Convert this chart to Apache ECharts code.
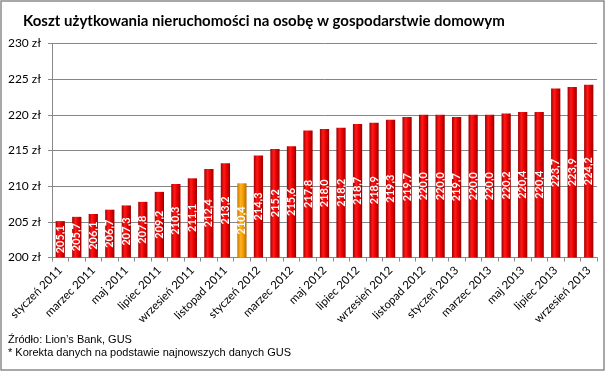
<!DOCTYPE html>
<html>
<head>
<meta charset="utf-8">
<script src="https://cdn.jsdelivr.net/npm/echarts@6/dist/echarts.min.js"></script>
<style>
html,body{margin:0;padding:0;background:#fff;}
#c{width:606px;height:372px;}
</style>
</head>
<body>
<div id="c"></div>
<script>
const categories = [
  'styczeń 2011','luty 2011','marzec 2011','kwiecień 2011','maj 2011','czerwiec 2011',
  'lipiec 2011','sierpień 2011','wrzesień 2011','październik 2011','listopad 2011','grudzień 2011',
  'styczeń 2012','luty 2012','marzec 2012','kwiecień 2012','maj 2012','czerwiec 2012',
  'lipiec 2012','sierpień 2012','wrzesień 2012','październik 2012','listopad 2012','grudzień 2012',
  'styczeń 2013','luty 2013','marzec 2013','kwiecień 2013','maj 2013','czerwiec 2013',
  'lipiec 2013','sierpień 2013','wrzesień 2013'
];
const values = [
  205.1, 205.7, 206.1, 206.7, 207.3, 207.8,
  209.2, 210.3, 211.1, 212.4, 213.2, 210.4,
  214.3, 215.2, 215.6, 217.8, 218.0, 218.2,
  218.7, 218.9, 219.3, 219.7, 220.0, 220.0,
  219.7, 220.0, 220.0, 220.2, 220.4, 220.4,
  223.7, 223.9, 224.2
];
const correctedIndex = 11; // grudzień 2011 (korekta)
const yTicks = [200, 205, 210, 215, 220, 225, 230];

const redGrad = new echarts.graphic.LinearGradient(0, 0, 1, 0, [
  {offset: 0, color: '#a00000'},
  {offset: 0.35, color: '#ff1a1a'},
  {offset: 0.6, color: '#f00000'},
  {offset: 1, color: '#960000'}
]);
const orangeGrad = new echarts.graphic.LinearGradient(0, 0, 1, 0, [
  {offset: 0, color: '#c87800'},
  {offset: 0.35, color: '#ffb020'},
  {offset: 0.6, color: '#f5a000'},
  {offset: 1, color: '#b86a00'}
]);

const chart = echarts.init(document.getElementById('c'), null, {renderer: 'canvas'});
chart.setOption({
  animation: false,
  backgroundColor: '#fff',
  title: {
    text: 'Koszt użytkowania nieruchomości na osobę w gospodarstwie domowym',
    left: 18, top: 9,
    textStyle: {fontFamily: 'Lato', fontWeight: 'bold', fontSize: 15, color: '#000'}
  },
  graphic: [
    {type: 'rect', shape: {x: 1, y: 1, width: 603, height: 369},
     style: {fill: 'none', stroke: '#8c8c8c', lineWidth: 1.5}, silent: true},
    {type: 'text', left: 8, top: 334,
     style: {text: 'Źródło: Lion\u2019s Bank, GUS', fontFamily: 'Liberation Sans', fontSize: 11, fill: '#000'}},
    {type: 'text', left: 8, top: 347,
     style: {text: '* Korekta danych na podstawie najnowszych danych GUS', fontFamily: 'Liberation Sans', fontSize: 11, fill: '#000'}}
  ],
  grid: {left: 52, right: 9, top: 43.5, bottom: 114.5, containLabel: false},
  xAxis: {
    type: 'category',
    data: categories,
    axisLine: {lineStyle: {color: '#888'}},
    axisTick: {show: true, alignWithLabel: false, interval: 0, length: 4, lineStyle: {color: '#888'}},
    axisLabel: {interval: 1, rotate: 45, fontFamily: 'Lato', fontSize: 11.5, color: '#000', margin: 11}
  },
  yAxis: {
    type: 'value',
    min: yTicks[0], max: yTicks[yTicks.length - 1], interval: 5,
    axisLine: {show: true, lineStyle: {color: '#888'}},
    axisTick: {show: true, length: 4, lineStyle: {color: '#888'}},
    splitLine: {lineStyle: {color: '#868686', width: 1}},
    axisLabel: {formatter: v => v + ' zł', fontFamily: 'Lato', fontSize: 12, color: '#000', margin: 11}
  },
  series: [{
    type: 'bar',
    data: values.map((v, i) => ({
      value: v,
      itemStyle: {color: i === correctedIndex ? orangeGrad : redGrad}
    })),
    barWidth: '56%',
    label: {
      show: true,
      position: 'inside',
      rotate: 90,
      formatter: p => p.value.toFixed(1).replace('.', ','),
      fontFamily: 'Lato', fontWeight: 'bold', fontSize: 11, color: '#fff'
    }
  }]
});
</script>
</body>
</html>
